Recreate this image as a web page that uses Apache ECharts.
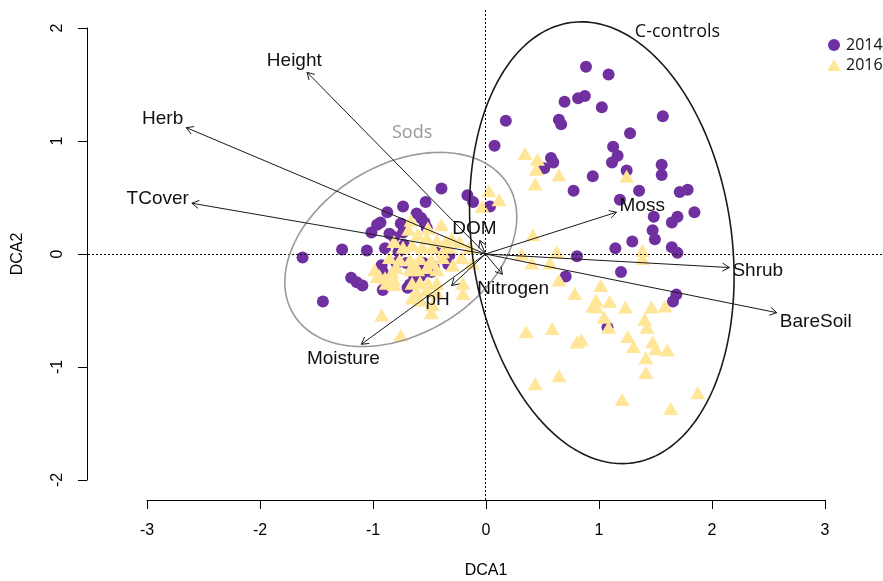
<!DOCTYPE html>
<html>
<head>
<meta charset="utf-8">
<title>DCA ordination</title>
<script src="https://cdn.jsdelivr.net/npm/echarts@6/dist/echarts.min.js"></script>
<style>
  html, body { margin: 0; padding: 0; background: #fff; }
  #chart { width: 883px; height: 581px; }
</style>
</head>
<body>
<div id="chart"></div>
<script>
// Site scores (DCA1, DCA2) by survey year
const sites2014 = [
  [0.89,1.66],[1.09,1.59],[0.70,1.35],[0.82,1.38],[0.88,1.40],[1.03,1.30],[0.18,1.18],[0.65,1.19],
  [0.67,1.15],[1.57,1.22],[1.28,1.07],[0.08,0.96],[1.13,0.95],[1.17,0.87],[1.12,0.81],[0.58,0.85],
  [0.60,0.81],[0.52,0.76],[1.56,0.79],[1.56,0.70],[1.25,0.74],[0.95,0.69],[0.78,0.56],[1.36,0.56],
  [1.72,0.55],[1.79,0.57],[1.19,0.48],[1.85,0.37],[1.49,0.33],[1.70,0.33],[1.65,0.28],[1.48,0.21],
  [1.50,0.13],[1.30,0.11],[1.65,0.06],[1.70,0.01],[1.15,0.05],[0.81,-0.02],[1.20,-0.16],[0.71,-0.20],
  [1.69,-0.36],[1.66,-0.42],[1.08,-0.65],[0.04,0.42],
  [-0.39,0.58],[-0.53,0.46],[-0.16,0.52],[-0.11,0.46],[-0.73,0.42],[-0.87,0.37],[-0.61,0.36],[-0.57,0.32],
  [-0.54,0.28],[-0.93,0.28],[-0.96,0.26],[-0.75,0.27],[-0.73,0.19],[-1.01,0.19],[-0.85,0.18],[-0.81,0.15],
  [-0.52,0.23],[-1.27,0.04],[-1.05,0.03],[-1.62,-0.03],[-0.89,0.05],[-0.77,0.02],[-1.19,-0.21],[-1.14,-0.25],
  [-1.09,-0.28],[-1.44,-0.42],[-0.91,-0.32],[-0.69,-0.30],[-0.33,-0.09],[-0.92,-0.10],[-0.91,-0.16],[-0.79,-0.08],
  [-0.70,-0.08],[-0.65,-0.12],[-0.58,-0.20],[-0.56,-0.17],[-0.67,-0.27],[-0.63,-0.21],[-0.55,-0.08],[-0.46,-0.11],
  [-0.48,-0.16],[-0.32,-0.01],[-0.41,0.04],[-0.72,0.08]
];
const sites2016 = [
  [0.35,0.89],[0.46,0.84],[0.45,0.75],[0.65,0.70],[0.44,0.62],[1.25,0.69],[0.03,0.56],[0.12,0.48],
  [-0.03,0.42],[0.42,0.17],[0.32,0.00],[0.63,0.02],[0.41,-0.08],[0.57,-0.08],[1.39,0.03],[1.39,-0.04],
  [0.65,-0.23],[0.79,-0.35],[1.02,-0.28],[0.98,-0.41],[0.95,-0.46],[0.98,-0.47],[1.10,-0.42],[1.24,-0.47],
  [1.47,-0.47],[1.59,-0.46],[1.05,-0.56],[1.41,-0.58],[1.43,-0.65],[1.09,-0.65],[0.36,-0.69],[0.59,-0.66],
  [0.81,-0.78],[0.85,-0.76],[1.26,-0.73],[1.48,-0.78],[1.31,-0.82],[1.51,-0.84],[1.61,-0.85],[1.42,-0.92],
  [1.42,-1.05],[0.65,-1.08],[0.44,-1.15],[1.88,-1.23],[1.21,-1.29],[1.64,-1.37],
  [-0.39,0.26],[-0.51,0.23],[-0.66,0.30],[-0.68,0.22],[-0.60,0.17],[-0.52,0.14],[-0.43,0.12],[-0.35,0.11],
  [-0.81,0.11],[-0.73,0.06],[-0.65,0.08],[-0.56,0.06],[-0.47,0.06],[-0.32,0.06],[-0.23,0.11],[-0.14,0.06],
  [-0.85,-0.03],[-0.76,-0.05],[-0.67,-0.05],[-0.58,-0.04],[-0.48,-0.05],[-0.38,-0.03],[-0.98,-0.14],[-0.94,-0.19],
  [-0.83,-0.16],[-0.79,-0.12],[-0.63,-0.10],[-0.52,-0.12],[-0.43,-0.14],[-0.96,-0.20],[-0.89,-0.21],[-0.81,-0.23],
  [-0.88,-0.26],[-0.81,-0.27],[-0.65,-0.26],[-0.58,-0.25],[-0.51,-0.26],[-0.43,-0.26],[-0.61,-0.34],[-0.52,-0.32],
  [-0.43,-0.34],[-0.65,-0.39],[-0.58,-0.41],[-0.47,-0.45],[-0.48,-0.52],[-0.92,-0.54],[-0.75,-0.72],[-0.20,-0.26],
  [-0.29,-0.10],[-0.21,-0.03],[-0.12,-0.08],[-0.67,-0.14],[-0.60,-0.14],[-0.38,0.02],[-0.48,-0.08],[-0.20,-0.35],
  [-0.30,0.14]
];

// Fitted environmental vectors
const vectorNames = ['Height','Herb','TCover','Moss','Shrub','BareSoil','Moisture','pH','Nitrogen','DOM'];
const vectorDCA1  = [-1.58, -2.65, -2.60, 1.16, 2.16, 2.58, -1.10, -0.30, 0.15, -0.05];
const vectorDCA2  = [ 1.61,  1.12,  0.45, 0.37, -0.12, -0.52, -0.80, -0.28, -0.18, 0.12];

// Group ellipses: centre (DCA1, DCA2), semi-axes, rotation in degrees
const ellipseNames  = ['Sods', 'C-controls'];
const ellipseCentre = [[-0.75, 0.04], [1.03, 0.10]];
const ellipseAxes   = [[1.11, 0.75], [1.97, 1.15]];
const ellipseAngle  = [31, 98];
const ellipseLabelAt = [[-0.65, 1.07], [1.70, 1.97]];

const xTicks = [-3, -2, -1, 0, 1, 2, 3];
const yTicks = [-2, -1, 0, 1, 2];

const PURPLE = '#7030A0';
const YELLOW = '#FFE699';
const ARIAL = '"Liberation Sans", Arial, sans-serif';
const SANS = '"Open Sans", "Noto Sans", sans-serif';

function ellipsePoints(i) {
  const [cx, cy] = ellipseCentre[i];
  const [a, b] = ellipseAxes[i];
  const th = ellipseAngle[i] * Math.PI / 180;
  const pts = [];
  for (let k = 0; k <= 240; k++) {
    const t = 2 * Math.PI * k / 240;
    const ex = a * Math.cos(t), ey = b * Math.sin(t);
    pts.push([cx + ex * Math.cos(th) - ey * Math.sin(th), cy + ex * Math.sin(th) + ey * Math.cos(th)]);
  }
  return pts;
}

const measureCtx = document.createElement('canvas').getContext('2d');
const VEC_FONT = 19;
measureCtx.font = VEC_FONT + 'px ' + ARIAL;

// Arrow from the origin to the vector tip, open arrowhead, label pushed just beyond the tip
function renderVector(params, api) {
  const x = api.value(0), y = api.value(1);
  const o = api.coord([0, 0]);
  const t = api.coord([x, y]);
  const dx = t[0] - o[0], dy = t[1] - o[1];
  const len = Math.hypot(dx, dy);
  const ux = dx / len, uy = dy / len;
  const head = 8, ca = Math.cos(Math.PI / 6), sa = Math.sin(Math.PI / 6);
  const h1 = [t[0] - head * (ux * ca - uy * sa), t[1] - head * (uy * ca + ux * sa)];
  const h2 = [t[0] - head * (ux * ca + uy * sa), t[1] - head * (uy * ca - ux * sa)];
  const name = vectorNames[params.dataIndex];
  const hw = measureCtx.measureText(name).width / 2 + 3;
  const hh = 13;
  const d = Math.min(Math.abs(ux) > 1e-6 ? hw / Math.abs(ux) : Infinity,
                     Math.abs(uy) > 1e-6 ? hh / Math.abs(uy) : Infinity);
  return {
    type: 'group',
    children: [
      { type: 'line', shape: { x1: o[0], y1: o[1], x2: t[0], y2: t[1] },
        style: { stroke: '#1a1a1a', lineWidth: 1 } },
      { type: 'polyline', shape: { points: [h1, t, h2] },
        style: { stroke: '#1a1a1a', lineWidth: 1, fill: null } },
      { type: 'text', x: t[0] + ux * d, y: t[1] + uy * d + 1.5,
        style: { text: name, fill: '#111', fontSize: VEC_FONT, fontFamily: ARIAL,
                 align: 'center', verticalAlign: 'middle' } }
    ]
  };
}

function renderGroupLabel(params, api) {
  const p = api.coord([api.value(0), api.value(1)]);
  const i = params.dataIndex;
  return {
    type: 'text', x: p[0], y: p[1],
    style: { text: ellipseNames[i], fill: i === 0 ? '#999999' : '#111', fontSize: 18,
             fontFamily: SANS, align: 'center', verticalAlign: 'middle' }
  };
}

const chart = echarts.init(document.getElementById('chart'), null, { renderer: 'canvas' });

const hidden = { show: false };
const option = {
  backgroundColor: '#fff',
  animation: false,
  grid: [
    { left: 88, top: 8, width: 795, height: 492 },
    { left: 147, top: 499, width: 678, height: 1 },
    { left: 87, top: 28, width: 1, height: 452 }
  ],
  xAxis: [
    { gridIndex: 0, type: 'value', min: -3.52, max: 3.52, axisLine: hidden, axisTick: hidden,
      axisLabel: hidden, splitLine: hidden },
    { gridIndex: 1, type: 'value', min: xTicks[0], max: xTicks[xTicks.length - 1], interval: 1,
      position: 'bottom',
      axisLine: { show: true, onZero: false, lineStyle: { color: '#000', width: 1 } },
      axisTick: { show: true, length: 9, inside: false, lineStyle: { color: '#000', width: 1 } },
      axisLabel: { show: true, margin: 23, fontSize: 16, fontFamily: ARIAL, color: '#000' },
      splitLine: hidden,
      name: 'DCA1', nameLocation: 'middle', nameGap: 63,
      nameTextStyle: { fontSize: 16, fontFamily: ARIAL, color: '#000' } },
    { gridIndex: 2, type: 'value', show: false }
  ],
  yAxis: [
    { gridIndex: 0, type: 'value', min: -2.18, max: 2.18, axisLine: hidden, axisTick: hidden,
      axisLabel: hidden, splitLine: hidden },
    { gridIndex: 1, type: 'value', show: false },
    { gridIndex: 2, type: 'value', min: yTicks[0], max: yTicks[yTicks.length - 1], interval: 1,
      position: 'left',
      axisLine: { show: true, onZero: false, lineStyle: { color: '#000', width: 1 } },
      axisTick: { show: true, length: 9, inside: false, lineStyle: { color: '#000', width: 1 } },
      axisLabel: { show: true, margin: 21, rotate: 90, fontSize: 16, fontFamily: ARIAL, color: '#000' },
      splitLine: hidden,
      name: 'DCA2', nameLocation: 'middle', nameGap: 61, nameRotate: 90,
      nameTextStyle: { fontSize: 16, fontFamily: ARIAL, color: '#000' } }
  ],
  legend: {
    data: [{ name: '2014', icon: 'circle' }, { name: '2016', icon: 'triangle' }],
    orient: 'vertical', left: 822, top: 32, itemWidth: 14, itemHeight: 12, itemGap: 4,
    selectedMode: false,
    textStyle: { fontFamily: SANS, fontSize: 16, color: '#111' }
  },
  series: [
    { name: 'zero', type: 'line', data: [], silent: true,
      markLine: { symbol: 'none', silent: true, label: { show: false },
        lineStyle: { color: '#000', width: 1, type: [2, 2] },
        data: [{ xAxis: 0 }, { yAxis: 0 }] } },
    { name: '2014', type: 'scatter', data: sites2014, symbol: 'circle', symbolSize: 12,
      itemStyle: { color: PURPLE, opacity: 1 }, z: 3 },
    { name: '2016', type: 'scatter', data: sites2016, symbol: 'triangle', symbolSize: [15, 13],
      itemStyle: { color: YELLOW, opacity: 1 }, z: 4 },
    { name: 'ellipseSods', type: 'line', data: ellipsePoints(0), showSymbol: false, symbol: 'none',
      lineStyle: { color: '#999999', width: 1.6 }, z: 5, silent: true },
    { name: 'ellipseControls', type: 'line', data: ellipsePoints(1), showSymbol: false, symbol: 'none',
      lineStyle: { color: '#1a1a1a', width: 1.6 }, z: 5, silent: true },
    { name: 'vectors', type: 'custom', renderItem: renderVector, z: 6, silent: true,
      data: vectorNames.map((n, i) => [vectorDCA1[i], vectorDCA2[i]]) },
    { name: 'groups', type: 'custom', renderItem: renderGroupLabel, z: 6, silent: true,
      data: ellipseLabelAt }
  ]
};
chart.setOption(option);
</script>
</body>
</html>
